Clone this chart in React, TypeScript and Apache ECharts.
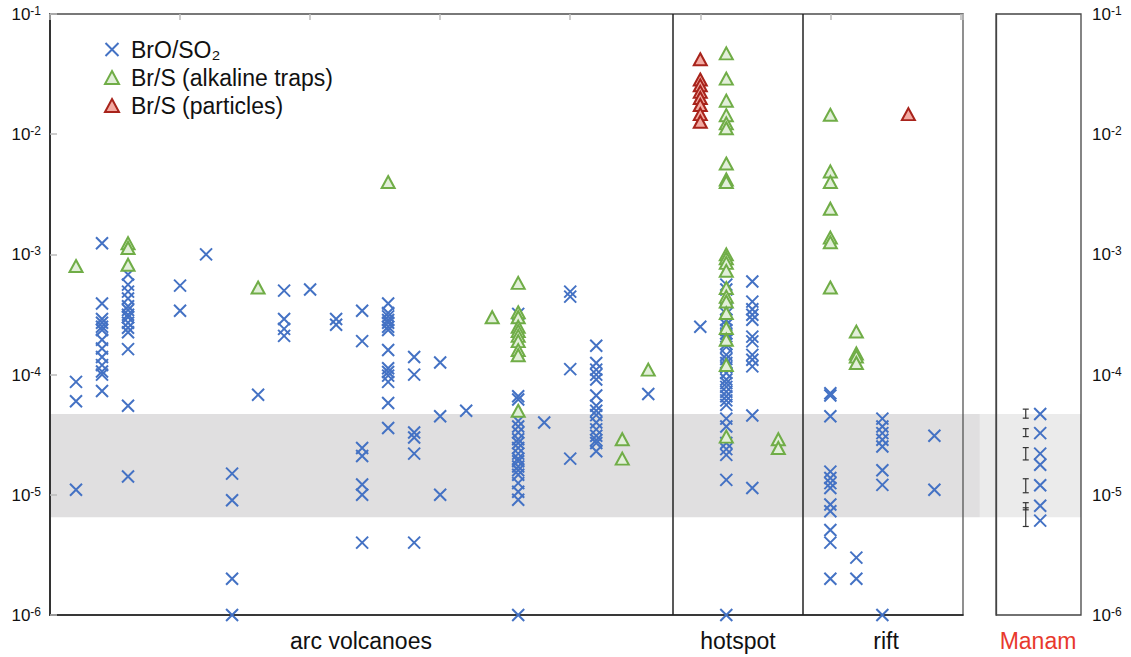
import React, { useEffect, useRef } from "react";
import * as echarts from "echarts";

// ---- data ----
const yTickMin = 1e-6;
const yTickMax = 1e-1;
const mainXMax = 7.02;
const dividers = [4.79, 5.79];
const bandRange = [6.5e-6, 4.7e-5];
const mainBandX = [0, 7.15];
const manamBandX = [-0.19, 1];

const brO_SO2: [number, number[]][] = [
  [0.2, [8.7e-5, 6.0e-5, 1.1e-5]],
  [0.4, [1.24e-3, 3.9e-4, 2.9e-4, 2.7e-4, 2.5e-4, 2.35e-4, 1.95e-4, 1.65e-4, 1.4e-4, 1.2e-4, 1.06e-4, 1.0e-4, 7.3e-5]],
  [0.6, [6.8e-4, 5.6e-4, 4.9e-4, 4.3e-4, 3.7e-4, 3.45e-4, 3.15e-4, 3.0e-4, 2.7e-4, 2.45e-4, 2.25e-4, 1.63e-4, 5.5e-5, 1.42e-5]],
  [1.0, [5.5e-4, 3.4e-4]],
  [1.2, [1.0e-3]],
  [1.4, [1.5e-5, 9.0e-6, 2.0e-6, 1.0e-6]],
  [1.6, [6.8e-5]],
  [1.8, [5.0e-4, 2.9e-4, 2.4e-4, 2.1e-4]],
  [2.0, [5.1e-4]],
  [2.2, [2.9e-4, 2.6e-4]],
  [2.4, [3.4e-4, 1.9e-4, 2.45e-5, 2.1e-5, 1.22e-5, 1.0e-5, 4.0e-6]],
  [2.6, [3.9e-4, 3.25e-4, 3.05e-4, 2.85e-4, 2.7e-4, 2.5e-4, 2.35e-4, 1.6e-4, 1.13e-4, 1.05e-4, 9.8e-5, 8.7e-5, 5.8e-5, 3.6e-5]],
  [2.8, [1.4e-4, 1.0e-4, 3.3e-5, 3.0e-5, 2.2e-5, 4.0e-6]],
  [3.0, [1.26e-4, 4.5e-5, 1.0e-5]],
  [3.2, [5.0e-5]],
  [3.6, [3.2e-4, 6.6e-5, 6.2e-5, 4.1e-5, 3.7e-5, 3.3e-5, 2.9e-5, 2.7e-5, 2.45e-5, 2.2e-5, 2.0e-5, 1.9e-5, 1.72e-5, 1.6e-5, 1.47e-5, 1.25e-5, 1.06e-5, 9.1e-6, 1.0e-6]],
  [3.8, [4.0e-5]],
  [4.0, [4.9e-4, 4.45e-4, 1.11e-4, 2.0e-5]],
  [4.2, [1.74e-4, 1.25e-4, 1.1e-4, 1.0e-4, 9.1e-5, 6.7e-5, 5.5e-5, 5.0e-5, 4.6e-5, 4.0e-5, 3.5e-5, 3.1e-5, 2.85e-5, 2.7e-5, 2.3e-5]],
  [4.6, [6.9e-5]],
  [5.0, [2.5e-4]],
  [5.2, [5.6e-4, 5.1e-4, 3.5e-4, 3.2e-4, 2.85e-4, 2.6e-4, 2.35e-4, 2.2e-4, 1.95e-4, 1.8e-4, 1.7e-4, 1.46e-4, 1.35e-4, 1.25e-4, 1.15e-4, 1.03e-4, 9.1e-5, 8.5e-5, 7.9e-5, 7.2e-5, 6.6e-5, 6.1e-5, 5.6e-5, 4.3e-5, 3.7e-5, 2.7e-5, 2.4e-5, 2.15e-5, 1.33e-5, 1.0e-6]],
  [5.4, [5.95e-4, 4.05e-4, 3.5e-4, 3.15e-4, 2.86e-4, 2.07e-4, 1.89e-4, 1.46e-4, 1.33e-4, 1.17e-4, 4.57e-5, 1.14e-5]],
  [6.0, [7.0e-5, 6.7e-5, 4.5e-5, 1.56e-5, 1.38e-5, 1.25e-5, 1.14e-5, 8.3e-6, 7.3e-6, 5.1e-6, 4.0e-6, 2.0e-6]],
  [6.2, [3.0e-6, 2.0e-6]],
  [6.4, [4.3e-5, 3.7e-5, 3.26e-5, 2.87e-5, 2.52e-5, 1.6e-5, 1.21e-5, 1.0e-6]],
  [6.8, [3.1e-5, 1.1e-5]],
];

const brS_traps: [number, number[]][] = [
  [0.2, [8.0e-4]],
  [0.6, [1.24e-3, 1.13e-3, 8.2e-4]],
  [1.6, [5.3e-4]],
  [2.6, [4.0e-3]],
  [3.4, [3.0e-4]],
  [3.6, [5.8e-4, 3.3e-4, 3.0e-4, 2.5e-4, 2.3e-4, 2.1e-4, 1.9e-4, 1.6e-4, 1.45e-4, 5.0e-5]],
  [4.4, [2.9e-5, 2.0e-5]],
  [4.6, [1.1e-4]],
  [5.2, [4.7e-2, 2.9e-2, 1.9e-2, 1.44e-2, 1.23e-2, 1.12e-2, 5.7e-3, 4.2e-3, 4.0e-3, 1.0e-3, 9.3e-4, 8.5e-4, 7.3e-4, 5.25e-4, 4.45e-4, 4.05e-4, 3.25e-4, 2.44e-4, 1.95e-4, 1.2e-4, 3.05e-5]],
  [5.6, [2.9e-5, 2.45e-5]],
  [6.0, [1.45e-2, 4.9e-3, 4.0e-3, 2.4e-3, 1.38e-3, 1.26e-3, 5.3e-4]],
  [6.2, [2.28e-4, 1.5e-4, 1.41e-4, 1.25e-4]],
];

const brS_particles: [number, number[]][] = [
  [5.0, [4.2e-2, 2.85e-2, 2.55e-2, 2.25e-2, 2.0e-2, 1.75e-2, 1.47e-2, 1.27e-2]],
  [6.6, [1.47e-2]],
];

const manamX = 0.52;
const manamBrO = [4.7e-5, 3.26e-5, 2.2e-5, 1.78e-5, 1.2e-5, 8.1e-6, 6.1e-6];
const manamErrX = 0.35;
const manamErrors: [number, number][] = [
  [4.34e-5, 5.16e-5],
  [3.05e-5, 3.55e-5],
  [1.95e-5, 2.47e-5],
  [1.04e-5, 1.36e-5],
  [7.5e-6, 8.6e-6],
  [5.45e-6, 7.8e-6],
];

const groupLabels = ["arc volcanoes", "hotspot", "rift"];
const manamLabel = "Manam";
const seriesNames = ["BrO/SO₂", "Br/S (alkaline traps)", "Br/S (particles)"];

// ---- styles ----
const FONT = "'Liberation Sans', Arial, Helvetica, sans-serif";
const BLUE = "#4472c4";
const GREEN = "#70ad47";
const GREEN_FILL = "#e2efd9";
const RED = "#a8231b";
const RED_FILL = "#f3aaa2";
const X_PATH = "path://M0,0L10,10M10,0L0,10";

const flatten = (cols: [number, number[]][]) =>
  cols.flatMap(([x, vals]) => vals.map((v) => [x, v]));

const supLabel = (v: number) => `{b|10}{s|${Math.round(Math.log10(v))}}`;
const labelRich = {
  b: { fontSize: 17, fontFamily: FONT, color: "#111", lineHeight: 18, verticalAlign: "bottom" },
  s: { fontSize: 12, fontFamily: FONT, color: "#111", lineHeight: 13, verticalAlign: "top", padding: [0, 0, 8, 0] },
};

export default function App() {
  const ref = useRef<HTMLDivElement>(null);
  useEffect(() => {
    if (!ref.current) return;
    const chart = echarts.init(ref.current, undefined, { renderer: "svg" });

    const bandItem = (fill: string) => (params: any, api: any) => {
      const p0 = api.coord([api.value(0), api.value(3)]);
      const p1 = api.coord([api.value(1), api.value(2)]);
      return {
        type: "rect",
        shape: { x: p0[0], y: p0[1], width: p1[0] - p0[0], height: p1[1] - p0[1] },
        style: { fill },
        silent: true,
      };
    };

    const catText = (text: string, x: number, fill: string) => ({
      type: "text",
      x,
      y: 641,
      style: { text, font: `23px ${FONT}`, fill, textAlign: "center", textVerticalAlign: "middle" },
    });

    const option: any = {
      animation: false,
      textStyle: { fontFamily: FONT },
      grid: [
        { left: 50, top: 14, width: 913, height: 601, show: true, borderColor: "#555", borderWidth: 1.3, backgroundColor: "transparent", z: 1 },
        { left: 996, top: 14, width: 85, height: 601, show: true, borderColor: "#444", borderWidth: 1.3, backgroundColor: "transparent", z: 1 },
      ],
      xAxis: [
        {
          gridIndex: 0, type: "value", min: 0, max: mainXMax, interval: 1, position: "bottom", z: 1,
          axisLine: { show: true, lineStyle: { color: "#222", width: 1.5 } },
          axisTick: { show: false }, axisLabel: { show: false }, splitLine: { show: false },
        },
        {
          gridIndex: 0, type: "value", min: 0, max: mainXMax, interval: 1, position: "top", z: 1,
          axisLine: { show: true, lineStyle: { color: "#777", width: 1.5 } },
          axisTick: { show: true, inside: true, length: 6, lineStyle: { color: "#bbb", width: 1.5 } },
          axisLabel: { show: false }, splitLine: { show: false },
        },
        {
          gridIndex: 1, type: "value", min: 0, max: 1, show: false,
        },
      ],
      yAxis: [
        {
          gridIndex: 0, type: "log", logBase: 10, min: yTickMin, max: yTickMax, position: "left", z: 1,
          axisLine: { show: true, lineStyle: { color: "#333", width: 2 } },
          axisTick: { show: true, inside: true, length: 7, lineStyle: { color: "#bbb", width: 1.5 } },
          axisLabel: { margin: 9, fontSize: 17, color: "#111", formatter: supLabel, rich: labelRich },
          splitLine: { show: false },
        },
        {
          gridIndex: 1, type: "log", logBase: 10, min: yTickMin, max: yTickMax, position: "right", z: 1,
          axisLine: { show: true, lineStyle: { color: "#444", width: 1.3 } },
          axisTick: { show: false },
          axisLabel: { margin: 11, fontSize: 17, color: "#111", formatter: supLabel, rich: labelRich },
          splitLine: { show: false },
        },
      ],
      legend: {
        orient: "vertical",
        left: 99,
        top: 33,
        itemWidth: 14,
        itemHeight: 13,
        itemGap: 5,
        textStyle: { fontSize: 23, fontFamily: FONT, color: "#111", padding: [0, 0, 0, 7] },
        data: [
          { name: seriesNames[0], icon: X_PATH, itemStyle: { color: "transparent", borderColor: BLUE, borderWidth: 2 } },
          { name: seriesNames[1], icon: "triangle", itemStyle: { color: GREEN_FILL, borderColor: GREEN, borderWidth: 2 } },
          { name: seriesNames[2], icon: "triangle", itemStyle: { color: RED_FILL, borderColor: RED, borderWidth: 2 } },
        ],
      },
      series: [
        {
          type: "custom", name: "bandMain", xAxisIndex: 0, yAxisIndex: 0, z: 0, clip: false, silent: true,
          encode: { x: [0, 1], y: [2, 3] },
          data: [[mainBandX[0], mainBandX[1], bandRange[0], bandRange[1]]],
          renderItem: bandItem("#e0dfe0"),
        },
        {
          type: "custom", name: "bandManam", xAxisIndex: 2, yAxisIndex: 1, z: 0, clip: false, silent: true,
          encode: { x: [0, 1], y: [2, 3] },
          data: [[manamBandX[0], manamBandX[1], bandRange[0], bandRange[1]]],
          renderItem: bandItem("#ebebeb"),
        },
        {
          type: "scatter", name: seriesNames[0], xAxisIndex: 0, yAxisIndex: 0, z: 2,
          symbol: X_PATH, symbolSize: 12,
          itemStyle: { color: "transparent", borderColor: BLUE, borderWidth: 2, opacity: 1 },
          data: flatten(brO_SO2),
          markLine: {
            silent: true, symbol: "none", label: { show: false },
            lineStyle: { color: "#222", width: 1.5, type: "solid" },
            data: dividers.map((d) => ({ xAxis: d })),
          },
        },
        {
          type: "scatter", name: seriesNames[1], xAxisIndex: 0, yAxisIndex: 0, z: 3,
          symbol: "triangle", symbolSize: [13, 12],
          itemStyle: { color: GREEN_FILL, borderColor: GREEN, borderWidth: 2, opacity: 1 },
          data: flatten(brS_traps),
        },
        {
          type: "scatter", name: seriesNames[2], xAxisIndex: 0, yAxisIndex: 0, z: 4,
          symbol: "triangle", symbolSize: [13, 12],
          itemStyle: { color: RED_FILL, borderColor: RED, borderWidth: 2, opacity: 1 },
          data: flatten(brS_particles),
        },
        {
          type: "scatter", name: seriesNames[0], xAxisIndex: 2, yAxisIndex: 1, z: 2,
          symbol: X_PATH, symbolSize: 12,
          itemStyle: { color: "transparent", borderColor: BLUE, borderWidth: 2, opacity: 1 },
          data: manamBrO.map((v) => [manamX, v]),
        },
        {
          type: "custom", name: "manamErr", xAxisIndex: 2, yAxisIndex: 1, z: 2, silent: true,
          encode: { x: 0, y: [1, 2] },
          data: manamErrors.map(([lo, hi]) => [manamErrX, lo, hi]),
          renderItem: (params: any, api: any) => {
            const a = api.coord([api.value(0), api.value(1)]);
            const b = api.coord([api.value(0), api.value(2)]);
            const st = { stroke: "#333", lineWidth: 1.2 };
            return {
              type: "group",
              children: [
                { type: "line", shape: { x1: a[0], y1: a[1], x2: b[0], y2: b[1] }, style: st },
                { type: "line", shape: { x1: a[0] - 3, y1: a[1], x2: a[0] + 3, y2: a[1] }, style: st },
                { type: "line", shape: { x1: b[0] - 3, y1: b[1], x2: b[0] + 3, y2: b[1] }, style: st },
              ],
            };
          },
        },
      ],
      graphic: [
        catText(groupLabels[0], 361, "#111"),
        catText(groupLabels[1], 738, "#111"),
        catText(groupLabels[2], 886, "#111"),
        catText(manamLabel, 1038, "#e8392c"),
      ],
    };
    chart.setOption(option);
    return () => chart.dispose();
  }, []);
  return (
    <div
      ref={ref}
      style={{ position: "absolute", left: 0, top: 0, width: 1131, height: 657, background: "#fff" }}
    />
  );
}
